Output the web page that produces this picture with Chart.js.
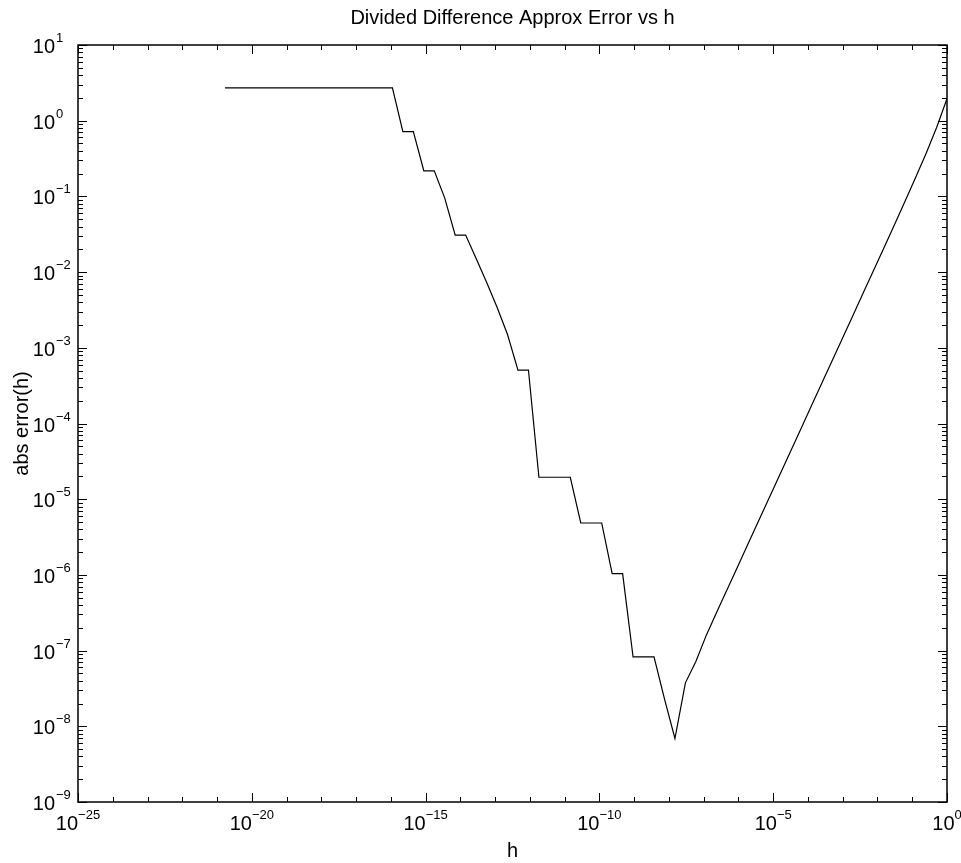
<!DOCTYPE html>
<html>
<head>
<meta charset="utf-8">
<title>Divided Difference Approx Error vs h</title>
<script src="https://cdn.jsdelivr.net/npm/chart.js@4.4.1/dist/chart.umd.min.js"></script>
<style>
  html, body { margin: 0; padding: 0; background: #fff; }
  #wrap { width: 961px; height: 863px; position: relative; }
</style>
</head>
<body>
<div id="wrap"><canvas id="chart"></canvas></div>
<script>
// step sizes h = 2^-69 ... 2^0
const hValues = [
  1.694e-21, 3.388e-21, 6.776e-21, 1.355e-20, 2.711e-20, 5.421e-20, 1.084e-19, 2.168e-19,
  4.337e-19, 8.674e-19, 1.735e-18, 3.469e-18, 6.939e-18, 1.388e-17, 2.776e-17, 5.551e-17,
  1.110e-16, 2.220e-16, 4.441e-16, 8.882e-16, 1.776e-15, 3.553e-15, 7.105e-15, 1.421e-14,
  2.842e-14, 5.684e-14, 1.137e-13, 2.274e-13, 4.547e-13, 9.095e-13, 1.819e-12, 3.638e-12,
  7.276e-12, 1.455e-11, 2.910e-11, 5.821e-11, 1.164e-10, 2.328e-10, 4.657e-10, 9.313e-10,
  1.863e-9, 3.725e-9, 7.451e-9, 1.490e-8, 2.980e-8, 5.960e-8, 1.192e-7, 2.384e-7,
  4.768e-7, 9.537e-7, 1.907e-6, 3.815e-6, 7.629e-6, 1.526e-5, 3.052e-5, 6.104e-5,
  1.221e-4, 2.441e-4, 4.883e-4, 9.766e-4, 1.953e-3, 3.906e-3, 7.813e-3, 1.563e-2,
  3.125e-2, 0.0625, 0.125, 0.25, 0.5, 1
];

// abs error, same order as hValues
const absError = [
  2.718, 2.718, 2.718, 2.718, 2.718, 2.718, 2.718, 2.718,
  2.718, 2.718, 2.718, 2.718, 2.718, 2.718, 2.718, 2.718,
  2.718, 0.718, 0.718, 0.218, 0.218, 0.095, 0.0308, 0.0308,
  0.01515, 0.00734, 0.00343, 0.00150, 5.06e-4, 5.08e-4, 1.95e-5, 1.95e-5,
  1.95e-5, 1.95e-5, 4.85e-6, 4.85e-6, 4.85e-6, 1.04e-6, 1.04e-6, 8.24e-8,
  8.24e-8, 8.24e-8, 2.3e-8, 6.9e-9, 3.75e-8, 7.2e-8, 1.60e-7, 3.235e-7,
  6.48e-7, 1.296e-6, 2.592e-6, 5.185e-6, 1.037e-5, 2.074e-5, 4.148e-5, 8.296e-5,
  1.659e-4, 3.3185e-4, 6.638e-4, 1.3277e-3, 2.656e-3, 5.316e-3, 1.0646e-2, 2.135e-2,
  4.292e-2, 8.673e-2, 0.1772, 0.3700, 0.8085, 1.9525
];

// tick label exponents (labels are 10^p)
const xTickExps = [-25, -20, -15, -10, -5, 0];
const yTickExps = [-9, -8, -7, -6, -5, -4, -3, -2, -1, 0, 1];

const TITLE = 'Divided Difference Approx Error vs h';
const TICK_FONT = '"Liberation Sans", Arial, sans-serif';
const TEXT_FONT = '"Liberation Sans", Arial, sans-serif';
const MINUS = '\u2212';

function expText(p) {
  return p < 0 ? MINUS + String(-p) : String(p);
}

// caja, marcas hacia dentro, título y etiquetas 10^p al estilo MATLAB
const matlabAxes = {
  id: 'matlabAxes',
  afterDraw(chart) {
    const { ctx, chartArea: a, scales: { x, y } } = chart;
    ctx.save();
    ctx.strokeStyle = '#000';
    ctx.lineWidth = 1;

    const ytick = (v, len) => {
      const py = Math.round(y.getPixelForValue(v)) + 0.5;
      ctx.beginPath();
      ctx.moveTo(a.left, py); ctx.lineTo(a.left + len, py);
      ctx.moveTo(a.right, py); ctx.lineTo(a.right - len, py);
      ctx.stroke();
    };
    const xtick = (v, len) => {
      const px = Math.round(x.getPixelForValue(v)) + 0.5;
      ctx.beginPath();
      ctx.moveTo(px, a.bottom); ctx.lineTo(px, a.bottom - len);
      ctx.moveTo(px, a.top); ctx.lineTo(px, a.top + len);
      ctx.stroke();
    };

    const yTop = yTickExps[yTickExps.length - 1];
    for (let p = yTickExps[0]; p <= yTop; p++) {
      const v = Math.pow(10, p);
      ytick(v, 9);
      if (p < yTop) {
        for (let m = 2; m <= 9; m++) ytick(m * v, 5);
      }
    }
    for (let p = xTickExps[0]; p <= xTickExps[xTickExps.length - 1]; p++) {
      xtick(Math.pow(10, p), p % 5 === 0 ? 9 : 5);
    }

    // caja
    ctx.lineWidth = 1.5;
    ctx.strokeRect(a.left, a.top, a.right - a.left, a.bottom - a.top);

    // título centrado sobre los ejes
    ctx.fillStyle = '#000';
    ctx.font = '20px ' + TEXT_FONT;
    ctx.textAlign = 'center';
    ctx.textBaseline = 'middle';
    ctx.fillText(TITLE, (a.left + a.right) / 2, 18);

    // etiquetas de los ejes
    const baseFont = '20px ' + TICK_FONT;
    const supFont = '13px ' + TICK_FONT;
    ctx.textBaseline = 'alphabetic';
    yTickExps.forEach((p) => {
      const py = y.getPixelForValue(Math.pow(10, p));
      ctx.font = baseFont;
      ctx.textAlign = 'right';
      ctx.fillText('10', 55, py + 8);
      ctx.font = supFont;
      ctx.textAlign = 'left';
      ctx.fillText(expText(p), 56, py - 3);
    });

    xTickExps.forEach((p) => {
      const px = x.getPixelForValue(Math.pow(10, p));
      ctx.font = baseFont;
      const wb = ctx.measureText('10').width;
      ctx.font = supFont;
      const we = ctx.measureText(expText(p)).width;
      const left = px - (wb + we) / 2;
      ctx.textAlign = 'left';
      ctx.font = baseFont;
      ctx.fillText('10', left, 830);
      ctx.font = supFont;
      ctx.fillText(expText(p), left + wb, 819);
    });
    ctx.restore();
  }
};

new Chart(document.getElementById('chart'), {
  type: 'line',
  data: {
    datasets: [{
      label: 'abs error(h)',
      data: hValues.map((h, i) => ({ x: h, y: absError[i] })),
      borderColor: '#000',
      borderWidth: 1.2,
      pointRadius: 0,
      tension: 0,
      fill: false,
    }],
  },
  options: {
    responsive: true,
    maintainAspectRatio: false,
    animation: false,
    layout: { padding: { left: 0, right: 14, top: 45, bottom: 0 } },
    plugins: {
      legend: { display: false },
      tooltip: { enabled: false },
      title: { display: false },
    },
    scales: {
      x: {
        type: 'logarithmic',
        min: 1e-25,
        max: 1,
        grid: { display: false },
        border: { display: false },
        ticks: { display: false },
        title: {
          display: true, text: 'h', color: '#000',
          font: { family: TEXT_FONT, size: 20, lineHeight: 1.2 },
          padding: { top: 0, bottom: 0 },
        },
        afterFit: (s) => { s.height = 61; },
      },
      y: {
        type: 'logarithmic',
        min: 1e-9,
        max: 10,
        grid: { display: false },
        border: { display: false },
        ticks: { display: false },
        title: {
          display: true, text: 'abs error(h)', color: '#000',
          font: { family: TEXT_FONT, size: 20, lineHeight: 1.2 },
          padding: { top: 10, bottom: 0 },
        },
        afterFit: (s) => { s.width = 78; },
      },
    },
  },
  plugins: [matlabAxes],
});
</script>
</body>
</html>
